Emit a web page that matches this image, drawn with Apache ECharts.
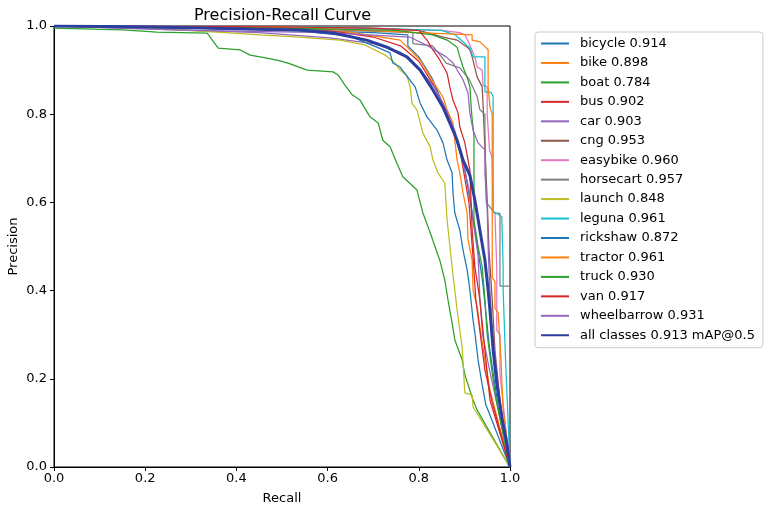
<!DOCTYPE html>
<html>
<head>
<meta charset="utf-8">
<script src="https://cdn.jsdelivr.net/npm/echarts@6/dist/echarts.min.js"></script>
<style>
html,body{margin:0;padding:0;background:#fff;}
#chart{width:765px;height:509px;}
</style>
</head>
<body>
<div id="chart"></div>
<script>
// ---- data (recall, precision) ----
const classNames = ['bicycle','bike','boat','bus','car','cng','easybike','horsecart','launch','leguna','rickshaw','tractor','truck','van','wheelbarrow'];
const classAP = ['0.914','0.898','0.784','0.902','0.903','0.953','0.960','0.957','0.848','0.961','0.872','0.961','0.930','0.917','0.931'];
const meanAP = '0.913';
const xTicks = [0, 0.2, 0.4, 0.6, 0.8, 1.0];

const bicycle = [[0,1],[0.3,0.995],[0.55,0.99],[0.70,0.985],[0.776,0.98],[0.776,0.955],[0.80,0.93],[0.83,0.88],[0.85,0.83],[0.87,0.78],[0.885,0.73],[0.90,0.68],[0.91,0.62],[0.92,0.56],[0.93,0.49],[0.94,0.42],[0.948,0.34],[0.955,0.27],[0.965,0.2],[0.975,0.13],[1,0]];
const bike = [[0,1],[0.43,0.995],[0.649,0.986],[0.759,0.968],[0.803,0.923],[0.836,0.866],[0.853,0.839],[0.862,0.810],[0.875,0.780],[0.879,0.741],[0.884,0.696],[0.890,0.667],[0.897,0.621],[0.906,0.576],[0.908,0.515],[0.917,0.469],[0.919,0.401],[0.928,0.363],[0.934,0.317],[0.945,0.243],[0.956,0.175],[1,0]];
const boat = [[0,0.995],[0.151,0.991],[0.226,0.986],[0.336,0.984],[0.360,0.950],[0.408,0.946],[0.430,0.934],[0.467,0.927],[0.496,0.921],[0.518,0.914],[0.555,0.900],[0.612,0.896],[0.623,0.889],[0.638,0.866],[0.654,0.844],[0.671,0.832],[0.693,0.794],[0.711,0.780],[0.721,0.741],[0.737,0.726],[0.752,0.689],[0.765,0.658],[0.796,0.628],[0.809,0.576],[0.825,0.531],[0.846,0.469],[0.857,0.424],[0.864,0.379],[0.873,0.327],[0.879,0.288],[0.895,0.243],[0.901,0.209],[0.919,0.152],[0.928,0.129],[0.998,0.002]];
const bus = [[0,1],[0.4,0.995],[0.6,0.99],[0.70,0.975],[0.76,0.955],[0.80,0.92],[0.83,0.87],[0.855,0.82],[0.875,0.77],[0.89,0.72],[0.90,0.66],[0.91,0.6],[0.915,0.53],[0.92,0.46],[0.925,0.38],[0.935,0.3],[0.945,0.22],[0.96,0.15],[1,0]];
const car = [[0,1],[0.3,0.99],[0.45,0.985],[0.605,0.973],[0.70,0.96],[0.76,0.94],[0.80,0.905],[0.835,0.86],[0.86,0.81],[0.88,0.76],[0.895,0.70],[0.91,0.63],[0.92,0.55],[0.93,0.48],[0.934,0.38],[0.94,0.30],[0.955,0.22],[0.97,0.15],[1,0]];
const cng = [[0,1],[0.6,0.998],[0.8,0.99],[0.853,0.975],[0.884,0.968],[0.906,0.952],[0.912,0.946],[0.917,0.930],[0.928,0.884],[0.939,0.862],[0.941,0.821],[0.945,0.719],[0.950,0.605],[0.954,0.492],[0.961,0.379],[0.967,0.265],[0.978,0.152],[1,0]];
const easybike = [[0,1],[0.5,0.998],[0.85,0.99],[0.89,0.985],[0.901,0.980],[0.912,0.957],[0.923,0.930],[0.928,0.907],[0.939,0.900],[0.941,0.866],[0.950,0.862],[0.950,0.80],[0.955,0.72],[0.961,0.70],[0.963,0.58],[0.967,0.575],[0.971,0.45],[0.971,0.31],[0.978,0.30],[0.978,0.21],[1,0]];
const horsecart = [[0,1],[0.5,0.995],[0.787,0.985],[0.787,0.96],[0.83,0.955],[0.85,0.93],[0.86,0.916],[0.89,0.905],[0.91,0.88],[0.928,0.84],[0.934,0.81],[0.945,0.80],[0.945,0.77],[0.948,0.6],[0.967,0.575],[0.978,0.575],[0.978,0.41],[1,0.41],[1,0]];
const launch = [[0,1],[0.211,0.995],[0.393,0.984],[0.452,0.980],[0.539,0.975],[0.627,0.968],[0.682,0.957],[0.726,0.934],[0.748,0.916],[0.759,0.900],[0.774,0.887],[0.781,0.862],[0.785,0.825],[0.796,0.810],[0.809,0.757],[0.825,0.726],[0.831,0.696],[0.842,0.667],[0.857,0.644],[0.862,0.560],[0.873,0.454],[0.884,0.356],[0.895,0.272],[0.901,0.168],[0.917,0.163],[0.919,0.136],[1,0]];
const leguna = [[0,1],[0.6,0.998],[0.85,0.99],[0.88,0.98],[0.912,0.95],[0.919,0.93],[0.945,0.93],[0.945,0.85],[0.958,0.85],[0.963,0.84],[0.963,0.578],[0.972,0.575],[0.982,0.567],[0.985,0.45],[0.985,0.40],[0.99,0.25],[1,0]];
const rickshaw = [[0,1],[0.320,0.995],[0.539,0.989],[0.649,0.977],[0.708,0.952],[0.737,0.939],[0.743,0.916],[0.759,0.907],[0.792,0.862],[0.803,0.825],[0.818,0.794],[0.840,0.764],[0.853,0.735],[0.862,0.696],[0.873,0.667],[0.875,0.621],[0.879,0.576],[0.890,0.537],[0.897,0.492],[0.906,0.447],[0.912,0.401],[0.919,0.333],[0.923,0.304],[0.930,0.243],[0.939,0.186],[0.947,0.141],[0.956,0.118],[1,0]];
const tractor = [[0,1],[0.5,0.998],[0.8,0.985],[0.917,0.98],[0.917,0.968],[0.934,0.964],[0.952,0.946],[0.952,0.862],[0.956,0.816],[0.961,0.80],[0.961,0.43],[0.967,0.42],[0.967,0.36],[0.974,0.35],[0.980,0.25],[0.985,0.13],[1,0]];
const truck = [[0,1],[0.5,0.995],[0.75,0.99],[0.83,0.98],[0.862,0.968],[0.884,0.952],[0.890,0.930],[0.897,0.907],[0.906,0.884],[0.912,0.862],[0.916,0.80],[0.921,0.75],[0.921,0.56],[0.93,0.50],[0.939,0.454],[0.945,0.38],[0.95,0.3],[0.96,0.22],[0.97,0.15],[1,0]];
const van = [[0,1],[0.5,0.998],[0.7,0.995],[0.80,0.99],[0.818,0.968],[0.831,0.946],[0.846,0.923],[0.862,0.893],[0.868,0.862],[0.875,0.832],[0.886,0.803],[0.890,0.771],[0.901,0.735],[0.912,0.673],[0.917,0.537],[0.923,0.454],[0.934,0.379],[0.945,0.265],[0.956,0.152],[1,0]];
const wheelbarrow = [[0,1],[0.3,0.99],[0.6,0.985],[0.78,0.975],[0.82,0.955],[0.86,0.93],[0.875,0.916],[0.897,0.878],[0.908,0.848],[0.912,0.803],[0.919,0.764],[0.930,0.735],[0.945,0.719],[0.945,0.667],[0.950,0.583],[0.952,0.5],[0.955,0.42],[0.96,0.33],[0.97,0.22],[0.98,0.12],[1,0]];
const allClasses = [[0,1.0],[0.211,0.998],[0.430,0.993],[0.539,0.991],[0.612,0.984],[0.686,0.968],[0.730,0.952],[0.774,0.930],[0.803,0.900],[0.831,0.855],[0.853,0.816],[0.868,0.780],[0.884,0.741],[0.897,0.696],[0.912,0.662],[0.923,0.605],[0.934,0.537],[0.945,0.469],[0.952,0.401],[0.956,0.356],[0.963,0.265],[0.971,0.190],[0.982,0.113],[0.993,0.054],[1.0,0.0]];

const classCurves = [bicycle, bike, boat, bus, car, cng, easybike, horsecart, launch, leguna, rickshaw, tractor, truck, van, wheelbarrow];

// ---- styles ----
const palette = ['#1f77b4','#ff7f0e','#2ca02c','#d62728','#9467bd','#8c564b','#e377c2','#7f7f7f','#bcbd22','#17becf'];
const FONT = 'DejaVu Sans';

const series = classNames.map((n, i) => ({
  name: n + ' ' + classAP[i],
  type: 'line',
  data: classCurves[i],
  symbol: 'none',
  lineStyle: { width: 1.25, color: palette[i % 10] },
  itemStyle: { color: palette[i % 10] },
  emphasis: { disabled: true },
  z: 2
}));
const meanName = 'all classes ' + meanAP + ' mAP@0.5';
series.push({
  name: meanName,
  type: 'line',
  data: allClasses,
  symbol: 'none',
  lineStyle: { width: 3, color: '#2c3e9e' },
  itemStyle: { color: '#2c3e9e' },
  emphasis: { disabled: true },
  z: 3
});

const chart = echarts.init(document.getElementById('chart'), null, { renderer: 'canvas' });
chart.setOption({
  animation: false,
  backgroundColor: '#ffffff',
  title: {
    text: 'Precision-Recall Curve',
    left: 189, top: 3,
    textStyle: { fontFamily: FONT, fontSize: 16, fontWeight: 'normal', color: '#000' }
  },
  grid: { left: 54, top: 26, width: 456, height: 441, show: true, borderColor: '#000', borderWidth: 1, backgroundColor: 'transparent', containLabel: false, outerBoundsMode: 'none' },
  legend: {
    orient: 'vertical',
    left: 535, top: 32,
    padding: [5, 8, 6, 5],
    itemWidth: 28, itemHeight: 14, itemGap: 6.45,
    backgroundColor: 'rgba(255,255,255,0.8)',
    borderColor: '#cccccc', borderWidth: 1, borderRadius: 3,
    itemStyle: { opacity: 0 },
    textStyle: { fontFamily: FONT, fontSize: 13, color: '#000', padding: [0, 0, 0, 6] },
    data: series.map(s => s.name),
    selectedMode: false
  },
  xAxis: {
    type: 'value', min: 0, max: 1, interval: 0.2,
    name: 'Recall', nameLocation: 'middle', nameGap: 25, nameMoveOverlap: false,
    nameTextStyle: { fontFamily: FONT, fontSize: 13, color: '#000' },
    axisLine: { show: true, lineStyle: { color: '#000', width: 1 } },
    axisTick: { show: true, length: 4, lineStyle: { color: '#000' } },
    axisLabel: { fontFamily: FONT, fontSize: 13, color: '#000', margin: 5, formatter: v => v.toFixed(1) },
    splitLine: { show: false }
  },
  yAxis: {
    type: 'value', min: 0, max: 1, interval: 0.2,
    name: 'Precision', nameLocation: 'middle', nameGap: 34, nameMoveOverlap: false,
    nameTextStyle: { fontFamily: FONT, fontSize: 13, color: '#000' },
    axisLine: { show: true, lineStyle: { color: '#000', width: 1 } },
    axisTick: { show: true, length: 4, lineStyle: { color: '#000' } },
    axisLabel: { fontFamily: FONT, fontSize: 13, color: '#000', margin: 7, formatter: v => v.toFixed(1) },
    splitLine: { show: false }
  },
  series: series
});
</script>
</body>
</html>
